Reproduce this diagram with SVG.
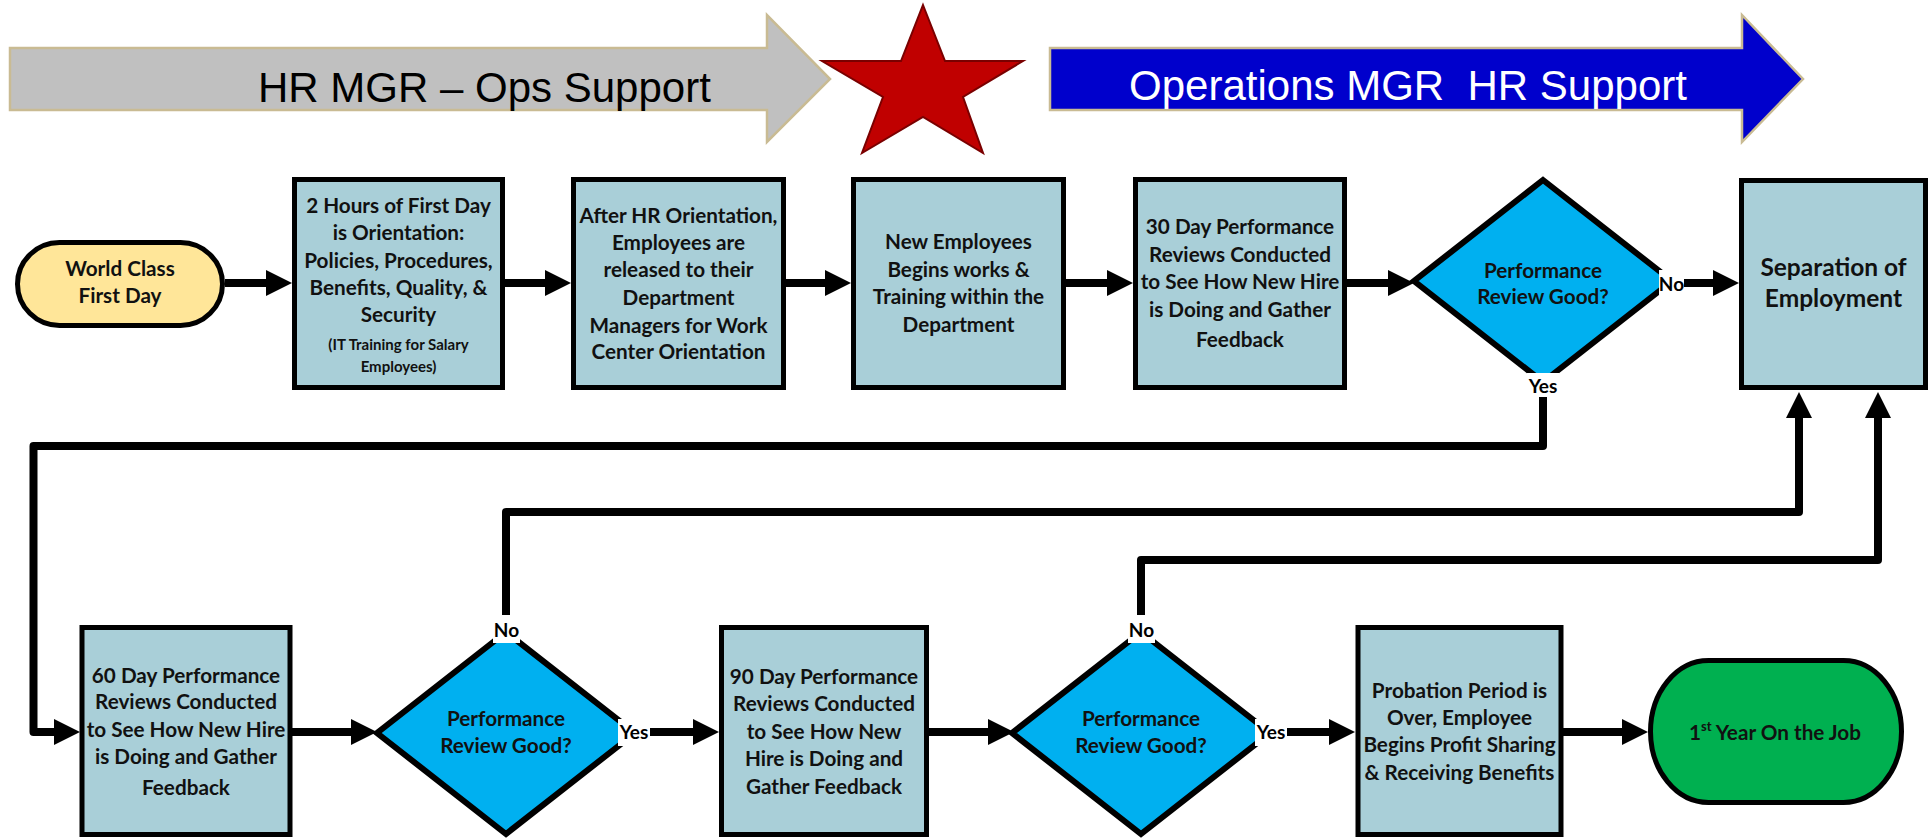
<svg xmlns="http://www.w3.org/2000/svg" width="1931" height="838" viewBox="0 0 1931 838">
<style>
.box{fill:#a9cfd8;stroke:#000;stroke-width:5}
.dia{fill:#00b0f0;stroke:#000;stroke-width:6;stroke-linejoin:miter}
.t{font-family:Lato,"Open Sans","Liberation Sans",sans-serif;font-weight:bold;font-size:20.7px;fill:#111;text-anchor:middle}
.s{font-size:15px}
.big{font-size:24.5px}
.lbl{font-family:Lato,"Open Sans","Liberation Sans",sans-serif;font-weight:bold;font-size:19px;fill:#000;text-anchor:middle}
.lb{fill:#fff}
.c{fill:none;stroke:#000;stroke-width:8;stroke-linejoin:round}
.ban{font-family:"Liberation Sans",Arial,sans-serif;font-size:42px}
</style>
<defs>
<marker id="ah" markerUnits="userSpaceOnUse" markerWidth="27" markerHeight="28" refX="0" refY="14" orient="auto">
<path d="M0,1 L26,14 L0,27 Z" fill="#000"/>
</marker>
</defs>
<rect width="1931" height="838" fill="#fff"/>

<g id="banner-hr">
<polygon points="10,48 767,48 767,15 830,79 767,142 767,110 10,110" fill="#c0c0c0" stroke="#c9bb93" stroke-width="2.5"/>
<text class="ban" x="258" y="102" fill="#000">HR MGR – Ops Support</text>
</g>
<g id="star">
<polygon points="923,5 945,61 1023,61 963,97 983,153 923,117 862,153 883,97 822,61 901,61" fill="#c00000" stroke="#7a0000" stroke-width="2"/>
</g>
<g id="banner-ops">
<polygon points="1050,48 1742,48 1742,15 1803,79 1742,142 1742,110 1050,110" fill="#0000cc" stroke="#c9bb93" stroke-width="2.5"/>
<text class="ban" x="1408" y="100" fill="#fff" text-anchor="middle" xml:space="preserve">Operations MGR  HR Support</text>
</g>

<g id="connectors">
<line class="c" x1="225" y1="283" x2="266" y2="283" marker-end="url(#ah)"/>
<line class="c" x1="505" y1="283" x2="545" y2="283" marker-end="url(#ah)"/>
<line class="c" x1="786" y1="283" x2="825" y2="283" marker-end="url(#ah)"/>
<line class="c" x1="1066" y1="283" x2="1107" y2="283" marker-end="url(#ah)"/>
<line class="c" x1="1347" y1="283" x2="1388" y2="283" marker-end="url(#ah)"/>
<line class="c" x1="1684" y1="283" x2="1713" y2="283" marker-end="url(#ah)"/>
<path class="c" d="M1543,397 V446 H33.5 V732 H54" marker-end="url(#ah)"/>
<line class="c" x1="292" y1="732" x2="351" y2="732" marker-end="url(#ah)"/>
<path class="c" d="M506,615 V512 H1799 V418" marker-end="url(#ah)"/>
<line class="c" x1="650" y1="732" x2="693" y2="732" marker-end="url(#ah)"/>
<line class="c" x1="929" y1="732" x2="988" y2="732" marker-end="url(#ah)"/>
<path class="c" d="M1141,615 V560 H1878 V418" marker-end="url(#ah)"/>
<line class="c" x1="1286" y1="732" x2="1329" y2="732" marker-end="url(#ah)"/>
<line class="c" x1="1563" y1="732" x2="1622" y2="732" marker-end="url(#ah)"/>
</g>

<g id="world-class">
<rect x="17.5" y="242.5" width="205" height="83" rx="42" ry="41.5" fill="#ffe699" stroke="#000" stroke-width="5"/>
<text class="t"><tspan x="120" y="276">World Class</tspan><tspan x="120" y="303">First Day</tspan></text>
</g>
<g id="orientation">
<rect class="box" x="294.5" y="179.5" width="208" height="208"/>
<text class="t"><tspan x="398.5" y="213">2 Hours of First Day</tspan><tspan x="398.5" y="240">is Orientation:</tspan><tspan x="398.5" y="268">Policies, Procedures,</tspan><tspan x="398.5" y="295">Benefits, Quality, &amp;</tspan><tspan x="398.5" y="322">Security</tspan></text>
<text class="t s"><tspan x="398.5" y="350">(IT Training for Salary</tspan><tspan x="398.5" y="372">Employees)</tspan></text>
</g>
<g id="release">
<rect class="box" x="573.5" y="179.5" width="210" height="208"/>
<text class="t"><tspan x="678.5" y="223">After HR Orientation,</tspan><tspan x="678.5" y="250">Employees are</tspan><tspan x="678.5" y="277">released to their</tspan><tspan x="678.5" y="305">Department</tspan><tspan x="678.5" y="333">Managers for Work</tspan><tspan x="678.5" y="359">Center Orientation</tspan></text>
</g>
<g id="training">
<rect class="box" x="853.5" y="179.5" width="210" height="208"/>
<text class="t"><tspan x="958.5" y="249">New Employees</tspan><tspan x="958.5" y="277">Begins works &amp;</tspan><tspan x="958.5" y="304">Training within the</tspan><tspan x="958.5" y="332">Department</tspan></text>
</g>
<g id="review30">
<rect class="box" x="1135.5" y="179.5" width="209" height="208"/>
<text class="t"><tspan x="1240" y="234">30 Day Performance</tspan><tspan x="1240" y="262">Reviews Conducted</tspan><tspan x="1240" y="289">to See How New Hire</tspan><tspan x="1240" y="317">is Doing and Gather</tspan><tspan x="1240" y="347">Feedback</tspan></text>
</g>
<g id="decision1">
<polygon class="dia" points="1543,180 1672,281 1543,382 1414,281"/>
<text class="t"><tspan x="1543" y="278">Performance</tspan><tspan x="1543" y="304">Review Good?</tspan></text>
<rect class="lb" x="1659" y="270" width="25" height="28"/>
<text class="lbl" x="1671.5" y="291">No</text>
<rect class="lb" x="1527" y="373" width="32" height="24"/>
<text class="lbl" x="1543" y="393">Yes</text>
</g>
<g id="separation">
<rect class="box" x="1741.5" y="180.5" width="184" height="207"/>
<text class="t big"><tspan x="1833.5" y="276">Separation of</tspan><tspan x="1833.5" y="307">Employment</tspan></text>
</g>
<g id="review60">
<rect class="box" x="82" y="627.5" width="208" height="207"/>
<text class="t"><tspan x="186" y="683">60 Day Performance</tspan><tspan x="186" y="709">Reviews Conducted</tspan><tspan x="186" y="737">to See How New Hire</tspan><tspan x="186" y="764">is Doing and Gather</tspan><tspan x="186" y="795">Feedback</tspan></text>
</g>
<g id="decision2">
<polygon class="dia" points="506,632 635,733 506,834 377,733"/>
<text class="t"><tspan x="506" y="726">Performance</tspan><tspan x="506" y="753">Review Good?</tspan></text>
<rect class="lb" x="493" y="615" width="27" height="28"/>
<text class="lbl" x="506.5" y="637">No</text>
<rect class="lb" x="618" y="719" width="32" height="27"/>
<text class="lbl" x="634" y="739">Yes</text>
</g>
<g id="review90">
<rect class="box" x="721.5" y="627.5" width="205" height="207"/>
<text class="t"><tspan x="824" y="684">90 Day Performance</tspan><tspan x="824" y="711">Reviews Conducted</tspan><tspan x="824" y="739">to See How New</tspan><tspan x="824" y="766">Hire is Doing and</tspan><tspan x="824" y="794">Gather Feedback</tspan></text>
</g>
<g id="decision3">
<polygon class="dia" points="1141,632 1270,733 1141,834 1012,733"/>
<text class="t"><tspan x="1141" y="726">Performance</tspan><tspan x="1141" y="753">Review Good?</tspan></text>
<rect class="lb" x="1128" y="615" width="27" height="28"/>
<text class="lbl" x="1141.5" y="637">No</text>
<rect class="lb" x="1255" y="719" width="32" height="27"/>
<text class="lbl" x="1271" y="739">Yes</text>
</g>
<g id="probation">
<rect class="box" x="1358" y="627.5" width="203" height="207"/>
<text class="t"><tspan x="1459.5" y="698">Probation Period is</tspan><tspan x="1459.5" y="725">Over, Employee</tspan><tspan x="1459.5" y="752">Begins Profit Sharing</tspan><tspan x="1459.5" y="780">&amp; Receiving Benefits</tspan></text>
</g>
<g id="first-year">
<rect x="1650.5" y="660.5" width="251" height="142" rx="58" ry="71" fill="#00b050" stroke="#000" stroke-width="5"/>
<text class="t" x="1775" y="740">1<tspan font-size="13" dy="-9">st</tspan><tspan dy="9"> Year On the Job</tspan></text>
</g>
</svg>
